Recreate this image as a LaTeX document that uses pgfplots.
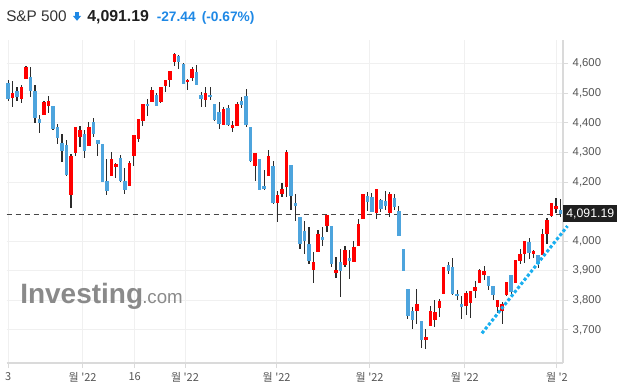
\documentclass[border=0pt]{standalone}
\usepackage{pgfplots}
\pgfplotsset{compat=1.18}
\usepackage{pgfplotstable}
\usepackage{fontspec}
\setmainfont{Liberation Sans}
\newfontfamily\kr{Noto Sans CJK KR}
\definecolor{upred}{HTML}{FF0000}
\definecolor{dnblue}{HTML}{4DA4DD}
\definecolor{wickc}{HTML}{2B2B2B}
\definecolor{gridc}{HTML}{F0F0F0}
\definecolor{axisc}{HTML}{DADADA}
\definecolor{labc}{HTML}{555555}
\definecolor{chgblue}{HTML}{1E88E5}
\definecolor{trendc}{HTML}{1AAFEF}
\definecolor{wmc}{HTML}{8A8A8A}
\definecolor{titlec}{HTML}{333333}

% up (red) candles: index open high low close
\pgfplotstableread{
i o h l c
1 4483.6 4540.1 4453.1 4501.7
3 4479.1 4528.8 4465.5 4522.0
4 4546.9 4593.2 4546.9 4589.8
8 4428.2 4474.6 4427.1 4470.0
9 4455.4 4489.2 4432.8 4474.6
14 4155.9 4294.9 4113.0 4287.0
15 4299.4 4386.4 4287.0 4386.4
16 4353.7 4389.8 4317.5 4376.2
18 4323.1 4402.2 4323.1 4386.4
23 4221.4 4300.5 4221.4 4277.9
24 4251.9 4265.5 4212.4 4259.8
27 4187.5 4271.2 4187.5 4264.4
28 4289.2 4359.3 4253.1 4359.3
29 4346.9 4413.5 4336.7 4413.5
30 4407.9 4464.4 4390.9 4464.4
32 4468.9 4522.0 4468.9 4511.9
34 4468.9 4522.0 4465.5 4522.0
35 4523.2 4545.8 4503.9 4545.8
36 4544.6 4576.3 4519.8 4576.3
37 4604.5 4637.3 4592.1 4633.9
40 4537.8 4549.1 4510.7 4545.8
41 4550.3 4587.6 4541.3 4583.0
44 4475.7 4520.9 4453.1 4501.7
48 4394.4 4453.1 4394.4 4446.4
50 4384.2 4407.9 4370.6 4393.3
51 4391.0 4471.2 4391.0 4464.4
55 4255.4 4298.3 4202.3 4298.3
58 4221.5 4308.5 4221.5 4288.2
60 4128.8 4169.5 4063.3 4155.9
61 4160.5 4197.8 4148.0 4176.3
62 4181.9 4309.6 4150.3 4302.9
68 3902.8 3965.0 3859.9 3928.8
69 3963.9 4037.3 3963.9 4024.9
71 4052.0 4089.3 4031.7 4089.3
73 3892.7 3945.8 3875.7 3902.8
75 3918.7 3983.1 3911.9 3971.8
77 3928.8 3998.9 3928.8 3979.7
78 3984.2 4073.5 3984.2 4057.6
79 4075.7 4159.3 4075.7 4159.3
82 4093.8 4176.3 4073.5 4176.3
85 4096.1 4165.0 4080.2 4159.3
91 3763.8 3837.3 3720.9 3788.7
93 3665.5 3703.9 3636.2 3674.6
94 3713.0 3780.8 3713.0 3762.7
95 3733.3 3800.0 3709.6 3759.3
96 3774.0 3805.7 3743.5 3796.6
97 3821.5 3911.9 3821.5 3911.9
102 3780.8 3830.5 3751.4 3823.7
103 3790.9 3830.5 3741.2 3830.5
104 3831.6 3866.7 3809.0 3844.1
105 3858.8 3907.4 3858.8 3901.7
106 3884.8 3917.5 3870.1 3898.3
109 3777.4 3800.0 3757.1 3800.0
110 3763.8 3794.4 3720.9 3788.7
111 3817.0 3861.0 3813.6 3861.0
113 3859.9 3937.9 3859.9 3935.6
114 3933.3 3974.0 3922.0 3958.2
115 3955.9 3999.9 3927.7 3999.9
117 3958.2 3971.8 3944.6 3967.2
119 3952.6 4039.6 3952.6 4023.7
120 4023.7 4076.9 3992.1 4071.2
121 4085.9 4128.8 4080.2 4128.8
122 4109.6 4144.7 4096.1 4118.6
}\upt

% down (blue) candles: index open high low close
\pgfplotstableread{
i o h l c
0 4535.6 4544.6 4472.3 4479.1
2 4507.3 4520.9 4472.3 4485.9
5 4554.8 4588.7 4487.0 4506.2
6 4507.3 4526.5 4401.1 4418.0
7 4413.5 4427.1 4364.9 4401.1
10 4456.5 4456.5 4375.1 4380.8
11 4385.3 4395.5 4327.7 4350.3
12 4332.2 4361.6 4266.6 4305.1
13 4325.4 4341.2 4220.3 4223.7
17 4361.6 4377.4 4280.2 4305.1
19 4403.4 4415.8 4352.5 4363.8
20 4341.2 4341.2 4287.0 4329.9
21 4327.7 4327.7 4201.1 4201.1
22 4203.4 4276.8 4157.0 4170.6
25 4281.3 4290.4 4201.1 4204.5
26 4203.4 4246.3 4160.4 4174.0
31 4463.3 4480.2 4424.8 4455.4
33 4494.9 4500.6 4455.4 4455.4
38 4627.1 4630.5 4581.9 4604.5
39 4598.9 4602.3 4529.9 4529.9
42 4571.8 4596.6 4526.6 4526.6
43 4494.9 4504.0 4453.1 4481.4
45 4494.9 4520.9 4478.0 4485.9
46 4464.4 4464.4 4407.9 4410.2
47 4437.3 4470.1 4380.8 4397.8
49 4450.9 4459.9 4391.0 4394.4
52 4474.6 4487.0 4449.8 4458.8
53 4491.6 4515.3 4385.3 4394.4
54 4386.5 4386.5 4268.9 4272.3
56 4278.0 4278.0 4174.0 4174.0
57 4187.6 4240.7 4174.0 4177.4
59 4254.3 4270.1 4125.4 4128.8
63 4257.7 4257.7 4106.2 4153.7
64 4128.8 4158.2 4068.9 4119.8
65 4081.4 4081.4 3975.2 3991.0
66 4033.9 4066.7 3958.2 4000.0
67 3991.0 4046.3 3924.3 3932.2
70 4013.6 4047.5 3985.3 4004.5
72 4050.9 4050.9 3911.9 3922.0
74 3929.9 3975.0 3810.2 3900.6
76 3942.4 3971.8 3872.3 3933.3
80 4152.6 4167.3 4102.8 4133.4
81 4149.2 4163.9 4097.2 4097.2
83 4139.0 4142.4 4099.5 4109.6
84 4135.6 4169.5 4105.1 4119.8
86 4145.8 4159.3 4105.1 4116.4
87 4100.6 4117.5 4018.1 4018.1
88 3972.9 3972.9 3899.4 3899.4
89 3837.3 3837.3 3735.6 3746.9
90 3762.7 3777.4 3703.9 3733.3
92 3728.8 3728.8 3639.5 3664.4
98 3918.7 3928.8 3890.4 3899.4
99 3911.9 3944.6 3817.0 3820.3
100 3822.6 3836.2 3800.0 3813.6
101 3786.4 3814.7 3737.9 3777.4
107 3881.4 3881.4 3833.9 3848.6
108 3849.7 3849.7 3802.3 3817.0
112 3884.7 3884.7 3813.6 3828.2
116 3997.7 4012.4 3939.0 3961.6
118 3952.6 3952.6 3910.8 3922.0
123 4105.1 4141.3 4082.5 4091.19
}\dnt

\begin{document}
\begin{tikzpicture}
\path[use as bounding box] (0,0) rectangle (468pt,292.5pt);
\begin{axis}[
  at={(4.875pt,20.25pt)}, anchor=south west,
  scale only axis, width=417.375pt, height=242.25pt,
  xmin=-0.35, xmax=123.55, ymin=3588.1, ymax=4680.1,
  axis x line*=bottom, axis y line*=right,
  axis line style={draw=axisc, line width=0.9pt},
  tick align=outside, major tick length=3.75pt,
  tick style={draw=axisc, line width=0.75pt},
  xtick={0,16.6,28.2,39.4,59.8,80.5,101.7,122.2},
  xticklabels={3,월 '22,16,월 '22,월 '22,월 '22,월 '22,월 '2},
  ytick={3700,3800,3900,4000,4200,4300,4400,4500,4600},
  scaled y ticks=false,
  grid=major, major grid style={draw=gridc, line width=0.75pt},
  /pgf/number format/1000 sep={,},
  /pgf/number format/assume math mode=true,
  yticklabel style={font=\fontsize{8.5}{10}\selectfont, text=labc, anchor=west},
  xticklabel style={font=\kr\fontsize{8.25}{10}\selectfont, text=labc},
  clip=false,
]
% last price line
\addplot[draw=black!72, line width=0.9pt, dash pattern=on 3.75pt off 3pt] coordinates {(-0.35,4091.19) (123.55,4091.19)};
% wicks
\addplot[draw=none, mark=none, error bars/.cd, y dir=both, y explicit, error mark=none,
  error bar style={draw=wickc, line width=0.85pt}]
  table[x=i, y expr={(\thisrow{h}+\thisrow{l})/2}, y error expr={(\thisrow{h}-\thisrow{l})/2}] {\upt};
\addplot[draw=none, mark=none, error bars/.cd, y dir=both, y explicit, error mark=none,
  error bar style={draw=wickc, line width=0.85pt}]
  table[x=i, y expr={(\thisrow{h}+\thisrow{l})/2}, y error expr={(\thisrow{h}-\thisrow{l})/2}] {\dnt};
% bodies
\addplot[draw=none, mark=none, error bars/.cd, y dir=both, y explicit, error mark=none,
  error bar style={draw=upred, line width=2.6pt}]
  table[x=i, y expr={(\thisrow{o}+\thisrow{c})/2}, y error expr={max(abs(\thisrow{c}-\thisrow{o})/2,2.5)}] {\upt};
\addplot[draw=none, mark=none, error bars/.cd, y dir=both, y explicit, error mark=none,
  error bar style={draw=dnblue, line width=2.6pt}]
  table[x=i, y expr={(\thisrow{o}+\thisrow{c})/2}, y error expr={max(abs(\thisrow{c}-\thisrow{o})/2,2.5)}] {\dnt};
% last price box
\node[fill=black!88, text=white, anchor=west, inner sep=0pt, minimum width=40.5pt, minimum height=12.5pt,
  font=\fontsize{9.2}{10}\selectfont] at (axis cs:123.55,4092.5) {4,091.19};
% trend line
\addplot[draw=trendc, line width=2.3pt, dash pattern=on 2.3pt off 1.6pt] coordinates {(105.5,3688.5) (124.55,4051.2)};
\end{axis}
\begin{scope}[x=0.75pt, y=-0.75pt, shift={(0pt,292.5pt)}]
\node[anchor=base west, inner sep=0pt, font=\fontsize{11.5}{13}\selectfont, text=titlec] at (6,22) {S\&P 500};
\fill[chgblue] (74.9,12.3) rectangle (79.1,16.3);
\fill[chgblue] (73.0,16) -- (81.0,16) -- (77,20.8) -- cycle;
\node[anchor=base west, inner sep=0pt, font=\bfseries\fontsize{11.9}{13}\selectfont, text=black!88] at (87,22) {4,091.19};
\node[anchor=base west, inner sep=0pt, font=\bfseries\fontsize{10.3}{12}\selectfont, text=chgblue] at (156.5,22) {-27.44};
\node[anchor=base west, inner sep=0pt, font=\bfseries\fontsize{10.3}{12}\selectfont, text=chgblue] at (201.5,22) {(-0.67\%)};
\node[anchor=base west, inner sep=0pt, font=\bfseries\fontsize{21}{24}\selectfont, text=wmc] at (20,303) {Investing};
\node[anchor=base west, inner sep=0pt, font=\fontsize{14}{16}\selectfont, text=wmc] at (142,303) {.com};
\end{scope}
\end{tikzpicture}
\end{document}
